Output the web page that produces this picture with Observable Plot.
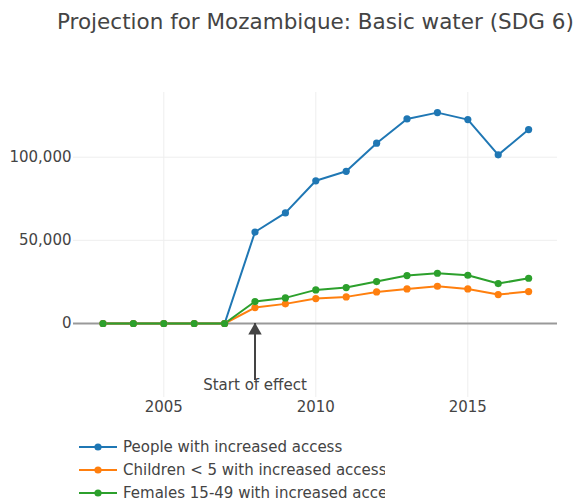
<!DOCTYPE html>
<html>
<head>
<meta charset="utf-8">
<script src="https://cdn.jsdelivr.net/npm/d3@7"></script>
<script src="https://cdn.jsdelivr.net/npm/@observablehq/plot@0.6"></script>
<style>
  html, body { margin: 0; padding: 0; background: #fff; }
  body { width: 576px; height: 503px; position: relative; overflow: hidden; font-family: "DejaVu Sans", Verdana, sans-serif; color: #444; }
  #title { position: absolute; left: 57px; top: 9px; font-size: 21.5px; white-space: nowrap; color: #444; }
  #chart { position: absolute; left: 0; top: 50px; }
  #legend { position: absolute; left: 78px; top: 435px; width: 307px; overflow: hidden; white-space: nowrap; font-size: 15px; }
  .row { height: 23px; display: flex; align-items: center; }
  .row svg { margin-right: 5px; flex: none; }
</style>
</head>
<body>
<div id="title">Projection for Mozambique: Basic water (SDG 6)</div>
<div id="chart"></div>
<div id="legend"></div>
<script>
const years = [2003, 2004, 2005, 2006, 2007, 2008, 2009, 2010, 2011, 2012, 2013, 2014, 2015, 2016, 2017];
const people = [0, 0, 0, 0, 0, 55000, 66500, 85800, 91500, 108400, 123000, 126800, 122600, 101400, 116600];
const children = [0, 0, 0, 0, 0, 9600, 11800, 15000, 16000, 19000, 20800, 22400, 20800, 17400, 19200];
const females = [0, 0, 0, 0, 0, 13200, 15400, 20200, 21600, 25200, 28800, 30200, 29000, 24000, 27200];
const seriesNames = ["People with increased access", "Children < 5 with increased access", "Females 15-49 with increased access"];
const seriesColors = ["#1f77b4", "#ff7f0e", "#2ca02c"];
const xTicks = [2005, 2010, 2015];
const yTicks = [0, 50000, 100000];
const annotation = [{year: 2008, value: 0, tail: -29500, text: "Start of effect"}];

const seriesValues = [people, children, females];
const data = [];
seriesNames.forEach((name, i) => {
  years.forEach((y, j) => data.push({series: name, year: y, value: seriesValues[i][j]}));
});

const chart = Plot.plot({
  width: 576,
  height: 380,
  marginTop: 42,
  marginBottom: 33,
  marginLeft: 73,
  marginRight: 19,
  style: {fontFamily: "DejaVu Sans, Verdana, sans-serif", fontSize: "15px", color: "#444", background: "#fff"},
  x: {domain: [2002.03, 2017.95], ticks: xTicks, tickFormat: d => String(d), tickSize: 0, tickPadding: 4, label: null},
  y: {domain: [-44500, 138900], ticks: yTicks, tickFormat: d3.format(","), tickSize: 0, tickPadding: 2, label: null},
  color: {domain: seriesNames, range: seriesColors},
  marks: [
    Plot.gridX(xTicks, {stroke: "#eee", strokeOpacity: 1, strokeWidth: 1}),
    Plot.gridY(yTicks.filter(d => d !== 0), {stroke: "#eee", strokeOpacity: 1, strokeWidth: 1}),
    Plot.ruleY([0], {stroke: "#999", strokeWidth: 2}),
    Plot.axisX(xTicks, {tickSize: 0, tickPadding: 4, tickFormat: d => String(d), fill: "#444", label: null, fontSize: 15}),
    Plot.axisY(yTicks, {tickSize: 0, tickPadding: 2, tickFormat: d3.format(","), fill: "#444", label: null, fontSize: 15}),
    Plot.line(data, {x: "year", y: "value", z: "series", stroke: "series", strokeWidth: 2}),
    Plot.dot(data, {x: "year", y: "value", fill: "series", r: 3.6}),
    Plot.ruleX(annotation, {x: "year", y1: "tail", y2: "value", stroke: "#444", strokeWidth: 2, insetTop: 8}),
    Plot.dot(annotation, {x: "year", y: "value", symbol: "triangle", fill: "#444", r: 5, dy: 7}),
    Plot.text(annotation, {x: "year", y: "tail", text: "text", dy: 13, fill: "#444", fontSize: 15})
  ]
});
document.getElementById("chart").appendChild(chart);

const legend = document.getElementById("legend");
seriesNames.forEach((name, i) => {
  const row = document.createElement("div");
  row.className = "row";
  row.innerHTML = `<svg width="40" height="12"><line x1="1" x2="39" y1="6" y2="6" stroke="${seriesColors[i]}" stroke-width="2"/><circle cx="20" cy="6" r="3.6" fill="${seriesColors[i]}"/></svg>`;
  const span = document.createElement("span");
  span.textContent = name;
  row.appendChild(span);
  legend.appendChild(row);
});
</script>
</body>
</html>
